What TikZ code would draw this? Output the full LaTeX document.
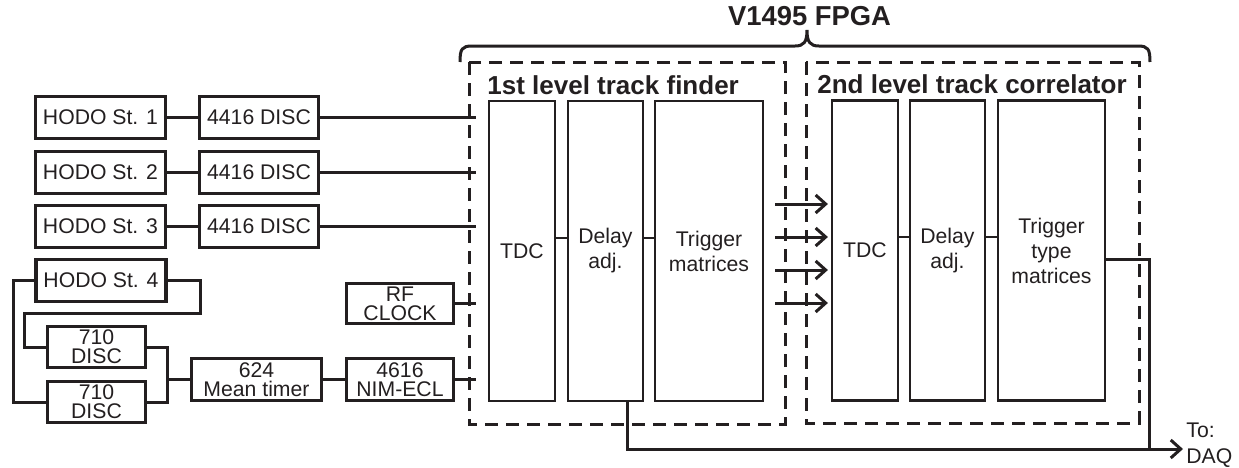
\documentclass[tikz,border=0pt]{standalone}
\usepackage{fontspec}
\setmainfont{Liberation Sans}
\usetikzlibrary{arrows.meta}
\definecolor{ink}{RGB}{35,31,32}
\begin{document}
\begin{tikzpicture}[x=0.5pt,y=-0.5pt,
  every node/.style={text=ink},
  obox/.style={draw=ink, line width=1.6pt, inner sep=0pt, align=center,
    font=\fontsize{10.6}{9.5}\selectfont},
  iblock/.style={draw=ink, line width=1.1pt, inner sep=0pt, align=center,
    minimum height=150pt, font=\fontsize{10.6}{12.5}\selectfont},
  wire/.style={draw=ink, line width=1.5pt},
  iwire/.style={draw=ink, line width=1.1pt},
  dashbox/.style={draw=ink, line width=1.5pt, dash pattern=on 6.5pt off 4pt},
  arr/.style={draw=ink, line width=1.5pt, -{Straight Barb[length=5pt,width=9pt,line width=1.5pt]}},
  head/.style={font=\bfseries\fontsize{13}{15}\selectfont, inner sep=0pt, anchor=base west}
]
\useasboundingbox (0,0) rectangle (1239,467);

% title and brace
\node[font=\bfseries\fontsize{13.7}{16}\selectfont, inner sep=0pt] (title) at (809.5,16) {V1495 FPGA};
\draw[ink, line width=1.5pt] (460,62) .. controls (460,49) and (462,46) .. (472,46)
  -- (795,46) .. controls (804,46) and (807,42) .. (807,30)
  .. controls (807,42) and (810,46) .. (819,46)
  -- (1138,46) .. controls (1148,46) and (1150,49) .. (1150,62);

% dashed groups
\draw[dashbox] (469,62) rectangle (785,424);
\draw[dashbox] (806,62) rectangle (1139,423);
\node[head] (h1lbl) at (487,94) {1st level track finder};
\node[head] (h2lbl) at (817,93) {2nd level track correlator};

% left boxes
\node[obox, minimum width=65pt, minimum height=21pt] (h1) at (100.5,117.5) {HODO St. 1};
\node[obox, minimum width=65pt, minimum height=21pt] (h2) at (100.5,172.5) {HODO St. 2};
\node[obox, minimum width=65pt, minimum height=21pt] (h3) at (100.5,226.5) {HODO St. 3};
\node[obox, minimum width=65pt, minimum height=21pt] (h4) at (101,280.5) {HODO St. 4};
\node[obox, minimum width=59.5pt, minimum height=21pt] (d1) at (259,117.5) {4416 DISC};
\node[obox, minimum width=59.5pt, minimum height=21pt] (d2) at (259,172.5) {4416 DISC};
\node[obox, minimum width=59.5pt, minimum height=21pt] (d3) at (259,226.5) {4416 DISC};
\node[obox, minimum width=49pt, minimum height=20.5pt] (du) at (96.5,347) {710\\DISC};
\node[obox, minimum width=49pt, minimum height=20.5pt] (dl) at (96.5,402) {710\\DISC};
\node[obox, minimum width=65pt, minimum height=21pt] (mt) at (256.5,379.5) {624\\Mean timer};
\node[obox, minimum width=53.5pt, minimum height=21pt] (nim) at (400,379.5) {4616\\NIM-ECL};
\node[obox, minimum width=53.5pt, minimum height=20pt] (rf) at (400,303.5) {RF\\CLOCK};

% FPGA blocks
\node[iblock, minimum width=33pt] (t1) at (522,251) {TDC};
\node[iblock, minimum width=37.5pt] (dy1) at (605.5,251) {Delay\\adj.};
\node[iblock, minimum width=54pt] (tr1) at (709,251) {Trigger\\matrices};
\node[iblock, minimum width=33pt] (t2) at (865,250.5) {TDC};
\node[iblock, minimum width=37.5pt] (dy2) at (947.5,250.5) {Delay\\adj.};
\node[iblock, minimum width=53.5pt] (tr2) at (1051.5,250.5) {Trigger\\type\\matrices};

% helper coordinates
\coordinate (tapx) at (476,0);
\coordinate (jx) at (167,0);
\coordinate (lx) at (13,0);
\coordinate (rx) at (200,313);
\coordinate (lx2) at (24,0);
\coordinate (a1) at (775,204);
\coordinate (a2) at (775,237);
\coordinate (a3) at (775,270);
\coordinate (a4) at (775,303);
\coordinate (daq) at (1183,449);
\coordinate (ox) at (1149,0);

% left wiring
\draw[wire] (h1.east) -- (d1.west);
\draw[wire] (h2.east) -- (d2.west);
\draw[wire] (h3.east) -- (d3.west);
\draw[wire] (d1.east) -- (d1.east -| tapx);
\draw[wire] (d2.east) -- (d2.east -| tapx);
\draw[wire] (d3.east) -- (d3.east -| tapx);
\draw[wire] (rf.east) -- (rf.east -| tapx);
\draw[wire] (nim.east) -- (nim.east -| tapx);
\draw[wire] (mt.east) -- (nim.west);
\draw[wire] (du.east) -| (jx |- dl.east) -- (dl.east);
\draw[wire] (mt.west) -- (mt.west -| jx);
\draw[wire] (h4.west) -| (lx |- dl.west) -- (dl.west);
\draw[wire] (h4.east) -| (rx) -| (lx2 |- du.west) -- (du.west);

% inner wiring
\draw[iwire] ([yshift=6.5pt]t1.east) -- ([yshift=6.5pt]t1.east -| dy1.west);
\draw[iwire] ([yshift=6.5pt]dy1.east) -- ([yshift=6.5pt]dy1.east -| tr1.west);
\draw[iwire] ([yshift=6.75pt]t2.east) -- ([yshift=6.75pt]t2.east -| dy2.west);
\draw[iwire] ([yshift=6.75pt]dy2.east) -- ([yshift=6.75pt]dy2.east -| tr2.west);

% level 1 -> level 2 arrows
\draw[arr, shorten >=1.5pt] (a1) -- (a1 -| t2.west);
\draw[arr, shorten >=1.5pt] (a2) -- (a2 -| t2.west);
\draw[arr, shorten >=1.5pt] (a3) -- (a3 -| t2.west);
\draw[arr, shorten >=1.5pt] (a4) -- (a4 -| t2.west);

% output to DAQ
\draw[arr] ([xshift=10.75pt]dy1.south) |- (daq);
\draw[wire] ([yshift=-4.5pt]tr2.east) -| (ox |- daq);
\node[anchor=west, inner sep=0pt, align=left, font=\fontsize{10.6}{13}\selectfont] (daqlbl) at (1186,445) {To:\\DAQ};
\end{tikzpicture}
\end{document}
